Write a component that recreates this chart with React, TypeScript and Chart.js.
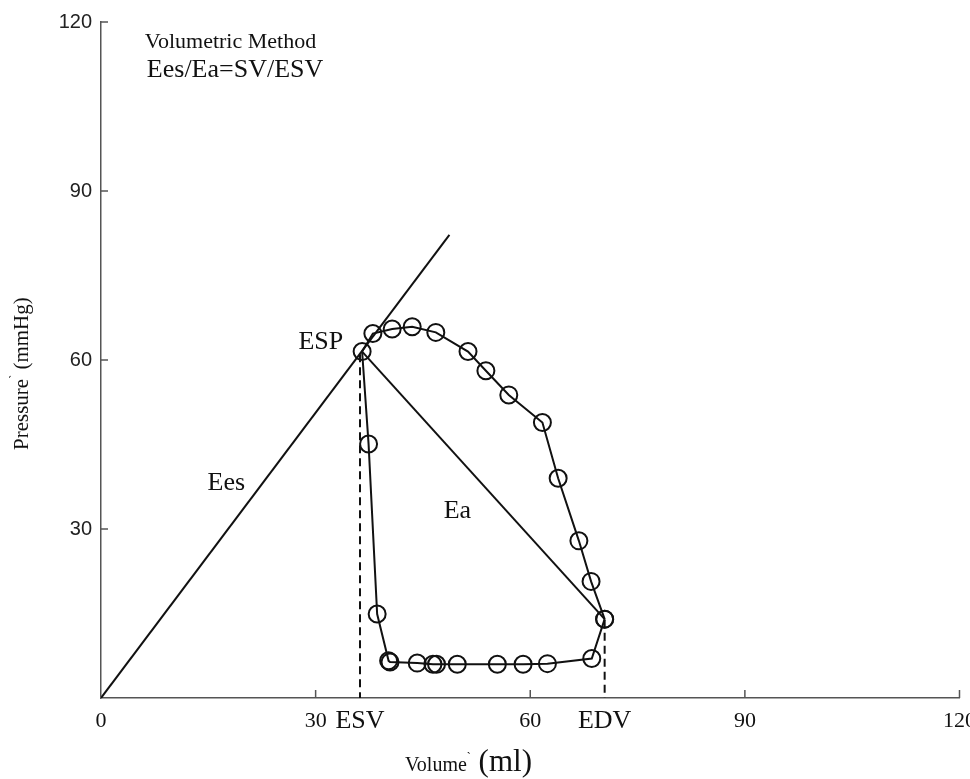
import React, { useEffect, useRef } from 'react';
import { Chart, registerables } from 'chart.js';

Chart.register(...registerables);

// ---- data ----
const ESV = 36.2;
const EDV = 70.4;

const loopVolume = [70.4, 68.5, 66.8, 63.9, 61.7, 57.0, 53.8, 51.3, 46.8, 43.5, 40.7, 38.0, 36.5, 37.4, 38.6, 40.2, 40.4, 44.2, 46.4, 46.9, 49.8, 55.4, 59.0, 62.4, 68.6, 70.4];
const loopPressure = [14.0, 20.7, 27.9, 39.0, 48.9, 53.8, 58.1, 61.5, 64.9, 65.9, 65.5, 64.7, 61.5, 45.1, 14.9, 6.6, 6.4, 6.2, 6.0, 6.0, 6.0, 6.0, 6.0, 6.1, 7.0, 14.0];

const eesVolume = [0, 48.7];
const eesPressure = [0, 82.2];

const eaVolume = [36.5, 70.4];
const eaPressure = [61.5, 14.0];

const esvLineVolume = [ESV, ESV];
const esvLinePressure = [61.0, 0];
const edvLineVolume = [EDV, EDV];
const edvLinePressure = [13.9, 0];

const xTickValues = [0, 30, ESV, 60, EDV, 90, 120];
const xTickLabels = ['0', '30', 'ESV', '60', 'EDV', '90', '120'];
const xMajorTicks = [30, 60, 90, 120];
const yTickValues = [30, 60, 90, 120];
const yTickLabels = ['30', '60', '90', '120'];

const SERIF = '"Liberation Serif", "Times New Roman", serif';
const SANS = '"Liberation Sans", Arial, sans-serif';
const INK = '#111';

const annotations = [
  { text: 'Volumetric Method', x: 6.13, y: 115.4, size: 22 },
  { text: 'Ees/Ea=SV/ESV', x: 6.41, y: 110.2, size: 26 },
  { text: 'ESP', x: 27.6, y: 61.96, size: 26 },
  { text: 'Ees', x: 14.9, y: 36.9, size: 26 },
  { text: 'Ea', x: 47.9, y: 31.95, size: 26 },
];

const toPoints = (xs: number[], ys: number[]) => xs.map((x, i) => ({ x, y: ys[i] }));

const drawSegments = (ctx: CanvasRenderingContext2D, segs: { text: string; size: number; dy?: number }[], startX: number, baseY: number) => {
  let cx = startX;
  segs.forEach((s) => {
    ctx.font = `${s.size}px ${SERIF}`;
    ctx.fillText(s.text, cx, baseY + (s.dy || 0));
    cx += ctx.measureText(s.text).width;
  });
  return cx - startX;
};

const decorPlugin = {
  id: 'decor',
  afterDraw(chart: any) {
    const { ctx } = chart;
    const x = chart.scales.x;
    const y = chart.scales.y;
    const y0 = y.getPixelForValue(0);
    const x0 = x.getPixelForValue(0);
    ctx.save();
    // inward tick marks
    ctx.strokeStyle = '#555';
    ctx.lineWidth = 1.5;
    xMajorTicks.forEach((v) => {
      const px = x.getPixelForValue(v);
      ctx.beginPath();
      ctx.moveTo(px, y0);
      ctx.lineTo(px, y0 - 8);
      ctx.stroke();
    });
    yTickValues.forEach((v) => {
      const py = y.getPixelForValue(v);
      ctx.beginPath();
      ctx.moveTo(x0, py);
      ctx.lineTo(x0 + 7, py);
      ctx.stroke();
    });
    // annotations
    ctx.fillStyle = INK;
    ctx.textAlign = 'left';
    ctx.textBaseline = 'alphabetic';
    annotations.forEach((a) => {
      ctx.font = `${a.size}px ${SERIF}`;
      ctx.fillText(a.text, x.getPixelForValue(a.x), y.getPixelForValue(a.y));
    });
    // x axis title
    drawSegments(ctx, [
      { text: 'Volume', size: 20 },
      { text: '`', size: 12, dy: -10 },
      { text: ' (ml)', size: 31 },
    ], 405, 771);
    // y axis title (rotated)
    ctx.translate(28, 450);
    ctx.rotate(-Math.PI / 2);
    drawSegments(ctx, [
      { text: 'Pressure', size: 21 },
      { text: '`', size: 12, dy: -10 },
      { text: ' (mmHg)', size: 21 },
    ], 0, 0);
    ctx.restore();
  },
};

export default function App() {
  const canvasRef = useRef<HTMLCanvasElement | null>(null);

  useEffect(() => {
    if (!canvasRef.current) return;
    const lineBase = { showLine: true, pointRadius: 0, borderColor: INK, borderWidth: 2, fill: false, tension: 0 };
    const chart = new Chart(canvasRef.current, {
      type: 'scatter',
      data: {
        datasets: [
          {
            label: 'PV loop',
            data: toPoints(loopVolume, loopPressure),
            showLine: true,
            borderColor: INK,
            borderWidth: 2,
            pointRadius: 8.5,
            pointBorderWidth: 2,
            pointBorderColor: INK,
            pointBackgroundColor: 'rgba(0,0,0,0)',
            pointStyle: 'circle',
            fill: false,
            tension: 0,
          },
          { label: 'Ees', data: toPoints(eesVolume, eesPressure), ...lineBase },
          { label: 'Ea', data: toPoints(eaVolume, eaPressure), ...lineBase },
          { label: 'ESV', data: toPoints(esvLineVolume, esvLinePressure), ...lineBase, borderDash: [8, 5] },
          { label: 'EDV', data: toPoints(edvLineVolume, edvLinePressure), ...lineBase, borderDash: [8, 5] },
        ],
      },
      options: {
        responsive: false,
        animation: false,
        events: [],
        layout: { padding: { left: 0, right: 8, top: 22, bottom: 0 } },
        plugins: { legend: { display: false }, tooltip: { enabled: false }, title: { display: false } },
        scales: {
          x: {
            type: 'linear',
            min: 0,
            max: 120,
            grid: { display: false, drawTicks: false },
            border: { display: true, color: '#555', width: 1.5 },
            afterBuildTicks: (scale: any) => {
              scale.ticks = xTickValues.map((v) => ({ value: v }));
            },
            afterFit: (scale: any) => {
              scale.height = 81;
              scale.paddingLeft = 0;
              scale.paddingRight = 0;
            },
            ticks: {
              autoSkip: false,
              maxRotation: 0,
              minRotation: 0,
              padding: 10,
              color: INK,
              font: (ctx: any) => {
                const i = ctx.index;
                const big = xTickLabels[i] === 'ESV' || xTickLabels[i] === 'EDV';
                return big ? { family: SERIF, size: 26, lineHeight: 1.0 } : { family: SERIF, size: 22 };
              },
              callback: (_v: any, i: number) => xTickLabels[i],
            },
          },
          y: {
            type: 'linear',
            min: 0,
            max: 120,
            grid: { display: false, drawTicks: false },
            border: { display: true, color: '#555', width: 1.5 },
            afterBuildTicks: (scale: any) => {
              scale.ticks = yTickValues.map((v) => ({ value: v }));
            },
            afterFit: (scale: any) => {
              scale.width = 101;
              scale.paddingTop = 0;
              scale.paddingBottom = 0;
            },
            ticks: {
              autoSkip: false,
              padding: 9,
              color: '#222',
              font: { family: SANS, size: 20 },
              callback: (_v: any, i: number) => yTickLabels[i],
            },
          },
        },
      },
      plugins: [decorPlugin],
    } as any);
    return () => chart.destroy();
  }, []);

  return (
    <div style={{ position: 'absolute', left: 0, top: 0, width: 970, height: 779, background: '#fff' }}>
      <canvas ref={canvasRef} width={970} height={779} style={{ display: 'block' }} />
    </div>
  );
}
